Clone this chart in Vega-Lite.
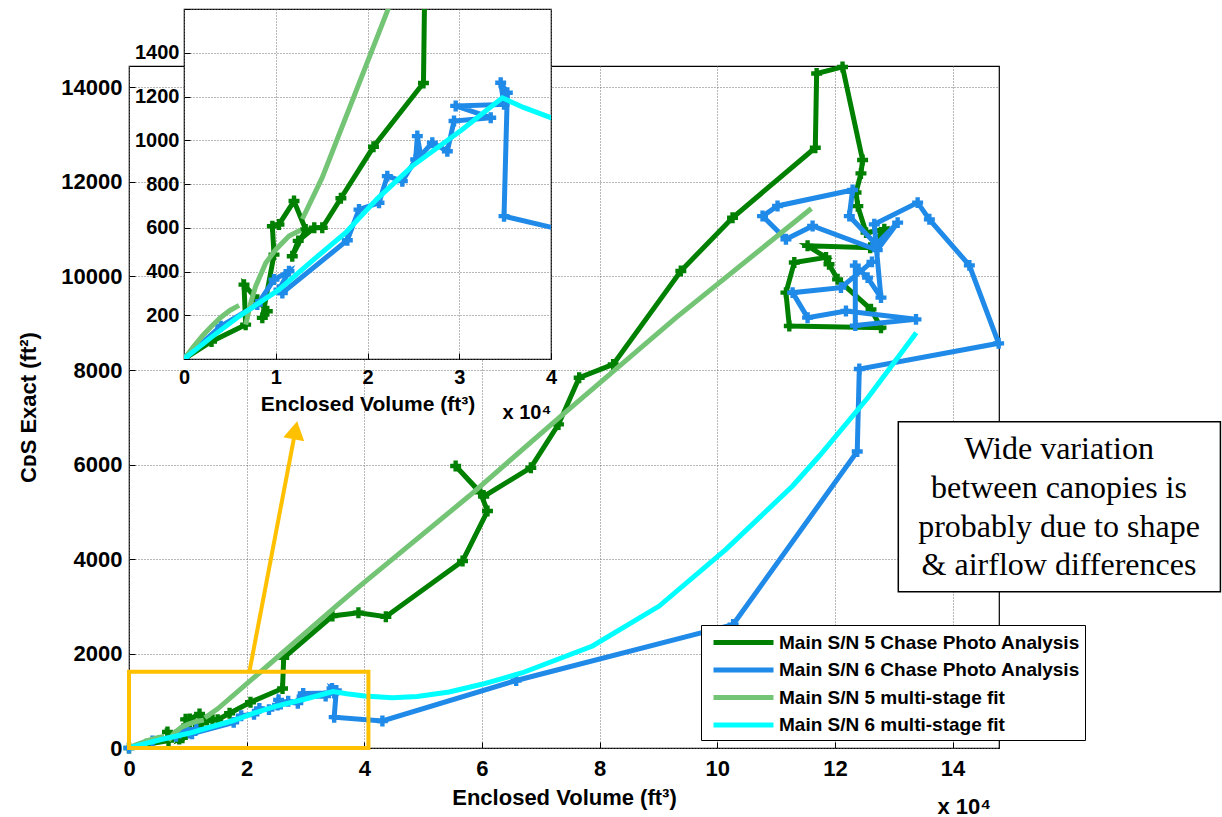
{
"$schema": "https://vega.github.io/schema/vega-lite/v6.json",
"background": "white",
"padding": {"left": 17, "top": 6, "right": 2, "bottom": 2},
"datasets": {
"s5": [{"x":0,"y":0},{"x":3000,"y":80},{"x":6720,"y":157},{"x":6540,"y":340},{"x":7990,"y":271},{"x":9080,"y":218},{"x":8535,"y":188},{"x":9810,"y":477},{"x":9630,"y":607},{"x":10350,"y":615},{"x":11990,"y":722},{"x":13260,"y":592},{"x":11800,"y":470},{"x":12450,"y":540},{"x":14200,"y":600},{"x":15070,"y":600},{"x":17100,"y":735},{"x":20650,"y":970},{"x":26100,"y":1262},{"x":26300,"y":1910},{"x":34580,"y":2797},{"x":39000,"y":2866},{"x":43660,"y":2781},{"x":56700,"y":3962},{"x":60940,"y":5021},{"x":59700,"y":5420},{"x":55530,"y":5975},{"x":60300,"y":5330},{"x":68310,"y":5939},{"x":73010,"y":6856},{"x":76530,"y":7845},{"x":82310,"y":8127},{"x":93810,"y":10106},{"x":102600,"y":11235},{"x":116670,"y":12718},{"x":116900,"y":14292},{"x":121300,"y":14430},{"x":124710,"y":12458},{"x":124430,"y":12174},{"x":123600,"y":11770},{"x":123900,"y":11480},{"x":125300,"y":10920},{"x":128400,"y":10990},{"x":126000,"y":10600},{"x":115360,"y":10640},{"x":118490,"y":10394},{"x":113100,"y":10288},{"x":111680,"y":9648},{"x":112250,"y":8942},{"x":127840,"y":8906},{"x":126140,"y":9294},{"x":120460,"y":9930},{"x":119000,"y":10250}],
"s6": [{"x":0,"y":0},{"x":4000,"y":150},{"x":7990,"y":249},{"x":9810,"y":363},{"x":11444,"y":401},{"x":10354,"y":317},{"x":10718,"y":302},{"x":17800,"y":543},{"x":19074,"y":683},{"x":21253,"y":714},{"x":22160,"y":836},{"x":23795,"y":813},{"x":25250,"y":912},{"x":25430,"y":1019},{"x":25800,"y":930},{"x":27065,"y":989},{"x":28700,"y":950},{"x":29430,"y":1088},{"x":33430,"y":1103},{"x":29610,"y":1157},{"x":34880,"y":1164},{"x":34515,"y":1263},{"x":35240,"y":1217},{"x":34880,"y":653},{"x":43080,"y":572},{"x":65820,"y":1430},{"x":102700,"y":2615},{"x":123800,"y":6283},{"x":124150,"y":8030},{"x":147840,"y":8574},{"x":142860,"y":10226},{"x":136060,"y":11201},{"x":134070,"y":11555},{"x":126700,"y":11095},{"x":127000,"y":10670},{"x":130670,"y":11131},{"x":127200,"y":10550},{"x":116210,"y":11061},{"x":111680,"y":10778},{"x":107700,"y":11270},{"x":110250,"y":11485},{"x":123010,"y":11824},{"x":122450,"y":11270},{"x":126990,"y":10671},{"x":127840,"y":9542},{"x":125560,"y":9966},{"x":123470,"y":10220},{"x":123470,"y":8950},{"x":133790,"y":9082},{"x":121880,"y":9260},{"x":115360,"y":9118},{"x":112810,"y":9648},{"x":121030,"y":9754},{"x":126300,"y":10300}],
"fit5": [{"x":0,"y":0,"g":1},{"x":1000,"y":55,"g":1},{"x":2000,"y":105,"g":1},{"x":3000,"y":150,"g":1},{"x":4000,"y":190,"g":1},{"x":5000,"y":222,"g":1},{"x":6000,"y":245,"g":1},{"x":6725,"y":157,"g":2},{"x":7270,"y":256,"g":2},{"x":7814,"y":333,"g":2},{"x":8905,"y":439,"g":2},{"x":9995,"y":500,"g":2},{"x":11444,"y":562,"g":2},{"x":12720,"y":590,"g":2},{"x":12900,"y":640,"g":3},{"x":15073,"y":830,"g":3},{"x":22343,"y":1610,"g":3},{"x":35714,"y":3060,"g":3},{"x":39120,"y":3420,"g":3},{"x":57823,"y":5339,"g":3},{"x":73130,"y":7000,"g":3},{"x":93000,"y":9120,"g":3},{"x":116000,"y":11430,"g":3}],
"fit6": [{"x":0,"y":0},{"x":3000,"y":100},{"x":6000,"y":195},{"x":10354,"y":317},{"x":14000,"y":450},{"x":17620,"y":577},{"x":21000,"y":730},{"x":24880,"y":882},{"x":30330,"y":1049},{"x":34690,"y":1194},{"x":37000,"y":1150},{"x":40030,"y":1103},{"x":44780,"y":1066},{"x":49000,"y":1090},{"x":54420,"y":1186},{"x":60000,"y":1350},{"x":66890,"y":1595},{"x":78800,"y":2161},{"x":90140,"y":3008},{"x":101480,"y":4208},{"x":112810,"y":5551},{"x":117350,"y":6186},{"x":125600,"y":7420},{"x":133840,"y":8799}]
},
"columns": 2,
"align": "none",
"bounds": "flush",
"spacing": {"row": -739, "column": -815},
"concat": [
{
"width": 870, "height": 682,
"view": {"stroke": "black", "strokeWidth": 1.2},
"layer": [
{"data": {"name": "s5"}, "mark": {"type": "line", "strokeWidth": 5, "point": {"shape": "cross", "size": 120, "filled": true}},
 "encoding": {
 "x": {"field": "x", "type": "quantitative", "scale": {"domain": [0, 147900], "nice": false, "zero": false},
  "axis": {"values": [0,20000,40000,60000,80000,100000,120000,140000], "labelExpr": "format(datum.value/10000,'d')", "title": "Enclosed Volume (ft³)", "labelFontSize": 22, "titleFontSize": 22, "labelPadding": 16, "titlePadding": 8, "labelFlush": false, "grid": true}},
 "y": {"field": "y", "type": "quantitative", "scale": {"domain": [0, 14450], "nice": false, "zero": false},
  "axis": {"values": [0,2000,4000,6000,8000,10000,12000,14000], "format": "d", "title": "CᴅS Exact  (ft²)", "labelFontSize": 22, "titleFontSize": 22, "labelPadding": 13, "titlePadding": 20, "grid": true}},
 "order": {"value": null},
 "color": {"datum": "Main S/N 5 Chase Photo Analysis",
  "scale": {"domain": ["Main S/N 5 Chase Photo Analysis", "Main S/N 6 Chase Photo Analysis", "Main S/N 5 multi-stage fit", "Main S/N 6 multi-stage fit"], "range": ["#008000", "#1F8AE8", "#74C476", "#00FFFF"]},
  "legend": {"orient": "none", "legendX": 572, "legendY": 559, "title": null, "fillColor": "white", "strokeColor": "black", "padding": 5, "labelFont": "Liberation Sans", "labelFontSize": 19, "labelFontWeight": "bold", "labelColor": "black", "labelLimit": 600, "symbolSize": 400, "symbolType": "M-3,0H3", "symbolStrokeWidth": 5, "symbolOffset": 25, "labelOffset": 23, "rowPadding": 4.5}}}},
{"data": {"name": "s6"}, "mark": {"type": "line", "strokeWidth": 5, "point": {"shape": "cross", "size": 120, "filled": true}},
 "encoding": {
 "x": {"field": "x", "type": "quantitative", "scale": {"domain": [0, 147900], "nice": false, "zero": false}},
 "y": {"field": "y", "type": "quantitative", "scale": {"domain": [0, 14450], "nice": false, "zero": false}},
 "order": {"value": null}, "color": {"datum": "Main S/N 6 Chase Photo Analysis"}}},
{"data": {"name": "fit5"}, "mark": {"type": "line", "strokeWidth": 5},
 "encoding": {
 "x": {"field": "x", "type": "quantitative", "scale": {"domain": [0, 147900], "nice": false, "zero": false}},
 "y": {"field": "y", "type": "quantitative", "scale": {"domain": [0, 14450], "nice": false, "zero": false}},
 "detail": {"field": "g", "type": "nominal"}, "color": {"datum": "Main S/N 5 multi-stage fit"}}},
{"data": {"name": "fit6"}, "mark": {"type": "line", "strokeWidth": 5},
 "encoding": {
 "x": {"field": "x", "type": "quantitative", "scale": {"domain": [0, 147900], "nice": false, "zero": false}},
 "y": {"field": "y", "type": "quantitative", "scale": {"domain": [0, 14450], "nice": false, "zero": false}},
 "color": {"datum": "Main S/N 6 multi-stage fit"}}},
{"data": {"values": [{}]}, "mark": {"type": "rect", "fillOpacity": 0, "stroke": "#FFC000", "strokeWidth": 4},
 "encoding": {"x": {"datum": 0, "type": "quantitative", "scale": {"domain": [0, 147900], "nice": false, "zero": false}}, "x2": {"datum": 40700}, "y": {"datum": 0, "type": "quantitative", "scale": {"domain": [0, 14450], "nice": false, "zero": false}}, "y2": {"datum": 1617}}},
{"data": {"values": [{}]}, "mark": {"type": "rule", "color": "#FFC000", "strokeWidth": 4},
 "encoding": {"x": {"datum": 20500, "type": "quantitative", "scale": {"domain": [0, 147900], "nice": false, "zero": false}}, "y": {"datum": 1640, "type": "quantitative", "scale": {"domain": [0, 14450], "nice": false, "zero": false}}, "x2": {"datum": 28300}, "y2": {"datum": 6734}}},
{"data": {"values": [{}]}, "mark": {"type": "point", "shape": "triangle-up", "filled": true, "color": "#FFC000", "size": 450, "angle": 10.7, "opacity": 1},
 "encoding": {"x": {"datum": 28300, "type": "quantitative", "scale": {"domain": [0, 147900], "nice": false, "zero": false}}, "y": {"datum": 6734, "type": "quantitative", "scale": {"domain": [0, 14450], "nice": false, "zero": false}}}},
{"data": {"values": [{}]}, "mark": {"type": "rect", "fill": "white", "stroke": "black", "strokeWidth": 1.5},
 "encoding": {"x": {"datum": 130780, "type": "quantitative", "scale": {"domain": [0, 147900], "nice": false, "zero": false}}, "x2": {"datum": 185540}, "y": {"datum": 3312, "type": "quantitative", "scale": {"domain": [0, 14450], "nice": false, "zero": false}}, "y2": {"datum": 6914}}},
{"data": {"values": [{}]}, "mark": {"type": "text", "text": ["Wide variation", "between canopies is", "probably due to shape", "& airflow differences"], "font": "Liberation Serif", "fontSize": 32, "lineHeight": 38.7, "align": "center", "baseline": "alphabetic", "color": "black"},
 "encoding": {"x": {"datum": 158100, "type": "quantitative", "scale": {"domain": [0, 147900], "nice": false, "zero": false}}, "y": {"datum": 6115, "type": "quantitative", "scale": {"domain": [0, 14450], "nice": false, "zero": false}}}},
{"data": {"values": [{}]}, "mark": {"type": "text", "text": "x 10⁴", "font": "Liberation Sans", "fontSize": 22, "fontWeight": "bold", "align": "center", "baseline": "alphabetic", "color": "black"},
 "encoding": {"x": {"datum": 142000, "type": "quantitative", "scale": {"domain": [0, 147900], "nice": false, "zero": false}}, "y": {"datum": -1392, "type": "quantitative", "scale": {"domain": [0, 14450], "nice": false, "zero": false}}}}
]
},
{"width": 1, "height": 1, "view": {"stroke": null}, "data": {"values": [{}]}, "mark": {"type": "point", "opacity": 0}, "encoding": {}},
{"width": 1, "height": 1, "view": {"stroke": null}, "data": {"values": [{}]}, "mark": {"type": "point", "opacity": 0}, "encoding": {}},
{
"width": 367, "height": 350,
"view": {"stroke": "black", "fill": "white", "strokeWidth": 1.2},
"layer": [
{"data": {"name": "s5"}, "mark": {"type": "line", "strokeWidth": 5, "color": "#008000", "clip": true, "point": {"shape": "cross", "size": 120, "filled": true, "color": "#008000", "clip": true}},
 "encoding": {
 "x": {"field": "x", "type": "quantitative", "scale": {"domain": [0, 40000], "nice": false, "zero": false},
  "axis": {"values": [0,10000,20000,30000,40000], "labelExpr": "format(datum.value/10000,'d')", "title": "Enclosed Volume (ft³)", "labelFontSize": 20, "titleFontSize": 21, "labelPadding": 14, "titlePadding": 6, "labelFlush": false, "grid": true}},
 "y": {"field": "y", "type": "quantitative", "scale": {"domain": [0, 1600], "nice": false, "zero": false},
  "axis": {"values": [0,200,400,600,800,1000,1200,1400,1600], "labelExpr": "datum.value == 0 || datum.value == 1600 ? '' : format(datum.value, 'd')", "title": null, "labelFontSize": 20, "labelPadding": 11, "grid": true}},
 "order": {"value": null}}},
{"data": {"name": "s6"}, "mark": {"type": "line", "strokeWidth": 5, "color": "#1F8AE8", "clip": true, "point": {"shape": "cross", "size": 120, "filled": true, "color": "#1F8AE8", "clip": true}},
 "encoding": {
 "x": {"field": "x", "type": "quantitative", "scale": {"domain": [0, 40000], "nice": false, "zero": false}},
 "y": {"field": "y", "type": "quantitative", "scale": {"domain": [0, 1600], "nice": false, "zero": false}},
 "order": {"value": null}}},
{"data": {"name": "fit5"}, "mark": {"type": "line", "strokeWidth": 5, "color": "#74C476", "clip": true},
 "encoding": {
 "x": {"field": "x", "type": "quantitative", "scale": {"domain": [0, 40000], "nice": false, "zero": false}},
 "y": {"field": "y", "type": "quantitative", "scale": {"domain": [0, 1600], "nice": false, "zero": false}},
 "detail": {"field": "g", "type": "nominal"}}},
{"data": {"name": "fit6"}, "mark": {"type": "line", "strokeWidth": 5, "color": "#00FFFF", "clip": true},
 "encoding": {
 "x": {"field": "x", "type": "quantitative", "scale": {"domain": [0, 40000], "nice": false, "zero": false}},
 "y": {"field": "y", "type": "quantitative", "scale": {"domain": [0, 1600], "nice": false, "zero": false}}}},
{"data": {"values": [{}]}, "mark": {"type": "text", "text": "x 10⁴", "font": "Liberation Sans", "fontSize": 20, "fontWeight": "bold", "align": "center", "baseline": "alphabetic", "color": "black"},
 "encoding": {"x": {"datum": 37380, "type": "quantitative", "scale": {"domain": [0, 40000], "nice": false, "zero": false}}, "y": {"datum": -275, "type": "quantitative", "scale": {"domain": [0, 1600], "nice": false, "zero": false}}}}
]
}
],
"config": {
"view": {"stroke": null},
"axis": {"labelFont": "Liberation Sans", "titleFont": "Liberation Sans", "labelColor": "black", "titleColor": "black", "labelFontWeight": "bold", "titleFontWeight": "bold", "gridColor": "#707070", "gridDash": [1, 2], "gridOpacity": 1, "gridWidth": 1, "ticks": true, "tickSize": -6, "tickColor": "black", "tickWidth": 1, "domain": false}
}
}
